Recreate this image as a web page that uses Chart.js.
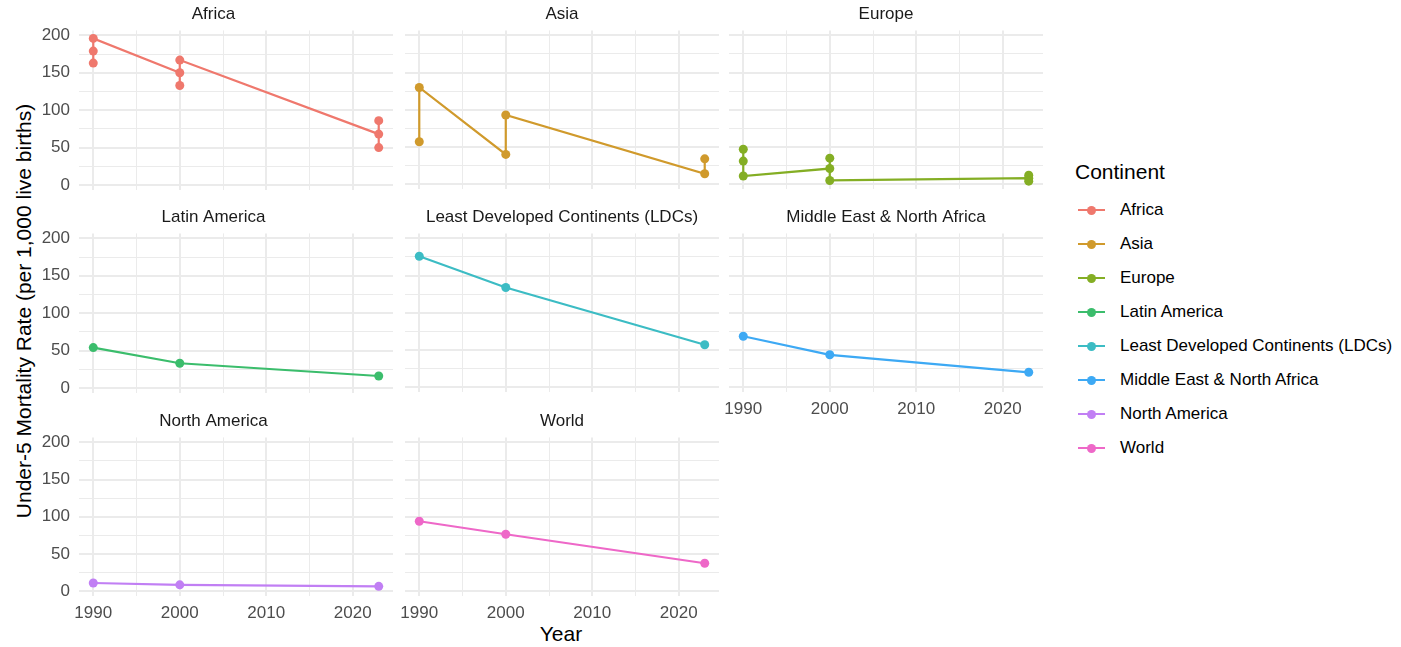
<!DOCTYPE html>
<html><head><meta charset="utf-8">
<script src="https://cdn.jsdelivr.net/npm/chart.js@4.4.1/dist/chart.umd.min.js"></script>
<style>
body{margin:0;background:#fff;width:1401px;height:647px;position:relative;overflow:hidden;font-family:"Liberation Sans",Arial,sans-serif;}
canvas{position:absolute;}
.ytitle{position:absolute;left:24px;top:311px;transform:translate(-50%,-50%) rotate(-90deg);white-space:nowrap;font-size:21px;color:#000;}
.xtitle{position:absolute;left:561px;top:634px;transform:translate(-50%,-50%);font-size:21px;color:#000;white-space:nowrap;}
.ltitle{position:absolute;left:1075px;top:172px;transform:translateY(-50%);font-size:21px;color:#000;white-space:nowrap;}
.litem{position:absolute;left:1078px;height:20px;transform:translateY(-50%);}
.litem .ln{position:absolute;left:0;top:9px;width:27px;height:2px;}
.litem .dt{position:absolute;left:9px;top:5.5px;width:9px;height:9px;border-radius:50%;}
.litem .tx{position:absolute;left:42px;top:0;line-height:20px;font-size:17px;color:#000;white-space:nowrap;}
</style></head><body>
<div class="ytitle">Under-5 Mortality Rate (per 1,000 live births)</div>
<div class="xtitle">Year</div>
<div class="ltitle">Continent</div>
<div id="legend"></div>
<script>
// ---- data (draw order within each year kept) ----
const continents = ['Africa','Asia','Europe','Latin America','Least Developed Continents (LDCs)','Middle East & North Africa','North America','World'];
const africaYears = [1990,1990,1990,2000,2000,2000,2023,2023,2023];
const africaRates = [179,163,196,150,133,167,68,50,86];
const asiaYears = [1990,1990,2000,2000,2023,2023];
const asiaRates = [57,130,40,93,14,34];
const europeYears = [1990,1990,1990,2000,2000,2000,2023,2023,2023];
const europeRates = [31,47,11,21,35,5,8,12,4];
const latinYears = [1990,2000,2023];
const latinRates = [54,33,16];
const ldcYears = [1990,2000,2023];
const ldcRates = [176,134,57];
const menaYears = [1990,2000,2023];
const menaRates = [68.5,43.5,20];
const naYears = [1990,2000,2023];
const naRates = [11,8.5,6.5];
const worldYears = [1990,2000,2023];
const worldRates = [94,76.5,37.5];
const xTickValues = [1990,1995,2000,2005,2010,2015,2020];
const yTickValues = [0,25,50,75,100,125,150,175,200];
const palette = ['#EF786D','#D09A2C','#84AE24','#3BBD6C','#3CBCC4','#3DA9F4','#C17FF4','#EE68C8'];

const panelSeries = [
  [africaYears, africaRates],[asiaYears, asiaRates],[europeYears, europeRates],
  [latinYears, latinRates],[ldcYears, ldcRates],[menaYears, menaRates],
  [naYears, naRates],[worldYears, worldRates]
];

// ---- layout ----
const colLeft = [79, 405, 729];
const rowTop = [30, 233, 437.2];
const PW = 314, PH = 159, TITLE_H = 28.4;
const FONT = '"Liberation Sans", Arial, sans-serif';

function makeConfig(i, showX, showY, yW, xH, padL, padB, padR) {
  const s = panelSeries[i];
  const pts = s[0].map((yr, k) => ({x: yr, y: s[1][k]}));
  return {
    type: 'line',
    data: { datasets: [{
      label: continents[i], data: pts,
      borderColor: palette[i], backgroundColor: palette[i],
      pointBackgroundColor: palette[i], pointBorderWidth: 0,
      pointRadius: 4.5, borderWidth: 2.2, tension: 0, fill: false
    }]},
    options: {
      responsive: false, maintainAspectRatio: false, animation: false,
      devicePixelRatio: 1,
      layout: { padding: { left: padL, right: padR, top: 0, bottom: padB } },
      plugins: {
        legend: { display: false }, tooltip: { enabled: false },
        title: { display: true, text: continents[i], color: '#1A1A1A',
          font: { family: FONT, size: 17, weight: 'normal', lineHeight: 1.2 },
          padding: { top: 2, bottom: 6 } }
      },
      scales: {
        x: {
          type: 'linear', min: 1988.35, max: 2024.65,
          afterBuildTicks: sc => { sc.ticks = xTickValues.map(v => ({value: v})); },
          afterFit: sc => { sc.height = xH; },
          border: { display: false },
          grid: { drawTicks: false, color: '#EBEBEB',
            lineWidth: c => (c.tick && c.tick.value % 10 === 0) ? 2 : 1 },
          ticks: { display: showX, padding: 7, color: '#4D4D4D', maxRotation: 0, autoSkip: false,
            font: { family: FONT, size: 17 },
            callback: v => v % 10 === 0 ? String(v) : '' }
        },
        y: {
          type: 'linear', min: -6.5, max: 206.7,
          afterBuildTicks: sc => { sc.ticks = yTickValues.map(v => ({value: v})); },
          afterFit: sc => { sc.width = yW; },
          border: { display: false },
          grid: { drawTicks: false, color: '#EBEBEB',
            lineWidth: c => (c.tick && c.tick.value % 50 === 0) ? 2 : 1 },
          ticks: { display: showY, padding: 9, color: '#4D4D4D', autoSkip: false,
            font: { family: FONT, size: 17 },
            callback: v => v % 50 === 0 ? String(v) : '' }
        }
      }
    }
  };
}

panelSeries.forEach((s, i) => {
  const col = i % 3, row = Math.floor(i / 3);
  const showX = row === 2 || (row === 1 && col === 2);
  const showY = col === 0;
  const yW = showY ? 45 : 0;
  const padL = showY ? 0 : 20;
  const xH = showX ? 30 : 0;
  const padB = showX ? 0 : 12;
  const padR = 12;
  let cw = Math.round(yW + padL + PW + padR);
  let ch = Math.round(TITLE_H + PH + xH + padB);
  const cv = document.createElement('canvas');
  document.body.appendChild(cv);
  let chart = null;
  for (let it = 0; it < 4; it++) {
    cv.width = cw; cv.height = ch;
    cv.style.width = cw + 'px'; cv.style.height = ch + 'px';
    chart = new Chart(cv, makeConfig(i, showX, showY, yW, xH, padL, padB, padR));
    const ca = chart.chartArea;
    cv.style.left = (colLeft[col] - ca.left) + 'px';
    cv.style.top = (rowTop[row] - ca.top) + 'px';
    const dW = Math.round(PW - (ca.right - ca.left));
    const dH = Math.round(PH - (ca.bottom - ca.top));
    if (dW === 0 && dH === 0) break;
    chart.destroy();
    cw += dW; ch += dH;
  }
});

// ---- legend ----
const lg = document.getElementById('legend');
continents.forEach((name, i) => {
  const d = document.createElement('div');
  d.className = 'litem';
  d.style.top = (210 + 34 * i) + 'px';
  d.innerHTML = '<div class="ln" style="background:' + palette[i] + '"></div>' +
    '<div class="dt" style="background:' + palette[i] + '"></div>' +
    '<div class="tx"></div>';
  d.querySelector('.tx').textContent = name;
  lg.appendChild(d);
});
</script>
</body></html>
